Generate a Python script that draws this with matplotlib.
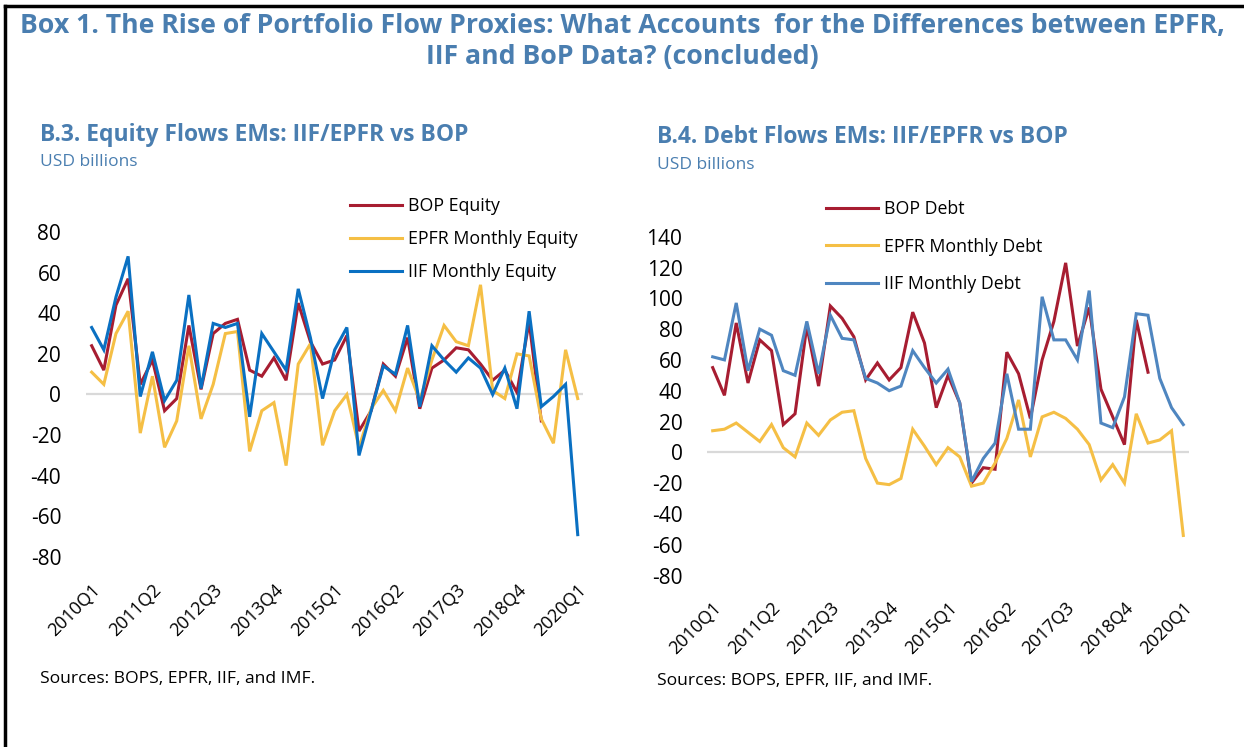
import matplotlib
matplotlib.use("Agg")
import matplotlib.pyplot as plt
from matplotlib.lines import Line2D
from matplotlib.transforms import ScaledTranslation

plt.rcParams['font.family'] = ['Open Sans', 'DejaVu Sans']

quarters = [f"{y}Q{q}" for y in range(2010, 2021) for q in range(1, 5)][:41]

# B.3 equity flows, USD billions
bop_equity = [24, 12, 44, 57, 5, 17, -8, -2, 34, 2.5, 30, 35, 37, 12, 9, 18, 7, 45, 26, 15,
              17, 29, -18, -8, 15, 9, 28, -7, 13, 17, 23, 22, 15, 7, 12, 1, 36, -13]
epfr_equity = [11, 5, 30, 41, -19, 9, -26, -13, 24, -12, 5, 30, 31, -28, -8, -4, -35, 15, 25, -25,
               -8, 0, -26, -7, 2, -8, 13, -3, 17, 34, 26, 24, 54, 2, -2, 20, 19, -12, -24, 22, -2]
iif_equity = [33, 22, 48, 68, -1, 21, -3, 7, 49, 3, 35, 33, 35, -11, 30, 21, 12, 52, 28, -2,
              22, 33, -30, -8, 14, 10, 34, -6, 24, 17, 11, 18, 13, 0, 13, -7, 41, -6, -1, 5, -69]

# B.4 debt flows, USD billions
bop_debt = [55, 37, 84, 45, 73, 66, 18, 25, 82, 43, 95, 87, 75, 47, 58, 47, 55, 91, 71, 29,
            50, 32, -20, -10, -11, 65, 51, 22, 60, 85, 123, 69, 94, 41, 23, 5, 86, 52]
iif_debt = [62, 60, 97, 53, 80, 76, 53, 50, 85, 51, 89, 74, 73, 48, 45, 40, 43, 66, 55, 45,
            54, 32, -19, -4, 6, 51, 15, 15, 101, 73, 73, 60, 105, 19, 16, 36, 90, 89, 48, 29, 18]
epfr_debt = [14, 15, 19, 13, 7, 18, 3, -3, 19, 11, 21, 26, 27, -4, -20, -21, -17, 15, 4, -8,
             3, -3, -22, -20, -7, 9, 34, -3, 23, 26, 22, 15, 5, -18, -8, -20, 25, 6, 8, 14, -54]

equity_ticks = [-80, -60, -40, -20, 0, 20, 40, 60, 80]
debt_ticks = [-80, -60, -40, -20, 0, 20, 40, 60, 80, 100, 120, 140]

RED = '#a71d31'
YELLOW = '#f5bf45'
BLUE_EQ = '#0a70c2'
BLUE_DEBT = '#4f86c0'
HEAD = '#4a7eb0'
W, H = 1244, 747


def px_axes(fig, x0, y0, x1, y1):
    """Axes from pixel box (top-left origin)."""
    return fig.add_axes([x0 / W, 1 - y1 / H, (x1 - x0) / W, (y1 - y0) / H])


def draw_panel(fig, ax, series, labels, colors, ticks):
    ax.axhline(0, color='#d9d9d9', lw=1.6, zorder=1)
    handles = []
    for vals, lab, col in zip(series, labels, colors):
        h, = ax.plot(range(len(vals)), vals, color=col, lw=2.2, label=lab, zorder=2,
                     solid_joinstyle='miter')
        handles.append(h)
    ax.set_xlim(-0.45, 40.45)
    ax.set_ylim(ticks[0], ticks[-1])
    ax.set_yticks(ticks)
    ax.set_yticklabels([str(t) for t in ticks], fontsize=15)
    pos = list(range(0, 41, 5))
    ax.set_xticks(pos)
    ax.set_xticklabels([quarters[p] for p in pos], rotation=45, ha='right',
                       rotation_mode='anchor', fontsize=13)
    shift = ScaledTranslation(-8 / 100, 0, fig.dpi_scale_trans)
    for lab in ax.get_xticklabels():
        lab.set_transform(lab.get_transform() + shift)
    ax.tick_params(axis='y', length=0, pad=18)
    ax.tick_params(axis='x', length=0, pad=17)
    for s in ax.spines.values():
        s.set_visible(False)
    ax.patch.set_alpha(0)
    return handles


fig = plt.figure(figsize=(W / 100, H / 100), dpi=100)

# box border
fig.add_artist(Line2D([5 / W, 1], [1 - 6 / H, 1 - 6 / H], color='black', lw=2.5))
fig.add_artist(Line2D([5 / W, 5 / W], [1 - 6 / H, 0], color='black', lw=2.5))

fig.text(0.5, 1 - 26 / H,
         "Box 1. The Rise of Portfolio Flow Proxies: What Accounts  for the Differences between EPFR,",
         ha='center', va='center', fontsize=19.2, fontweight='bold', color=HEAD)
fig.text(0.5, 1 - 57 / H, "IIF and BoP Data? (concluded)",
         ha='center', va='center', fontsize=19.2, fontweight='bold', color=HEAD)

# left panel
ax1 = px_axes(fig, 86.2, 232, 583.2, 557)
h1 = draw_panel(fig, ax1, [bop_equity, epfr_equity, iif_equity],
                ["BOP Equity", "EPFR Monthly Equity", "IIF Monthly Equity"],
                [RED, YELLOW, BLUE_EQ], equity_ticks)
fig.text(40 / W, 1 - 135 / H, "B.3. Equity Flows EMs: IIF/EPFR vs BOP",
         ha='left', va='center', fontsize=16.5, fontweight='bold', color=HEAD)
fig.text(40 / W, 1 - 162 / H, "USD billions", ha='left', va='center', fontsize=12.5, color=HEAD)
fig.text(40 / W, 1 - 679 / H, "Sources: BOPS, EPFR, IIF, and IMF.", ha='left', va='center',
         fontsize=12.6)
ax1.legend(handles=h1, loc='upper left', bbox_to_anchor=(350 / W, 1 - 197 / H),
           bbox_transform=fig.transFigure, frameon=False, fontsize=12.8, handlelength=2.9,
           handletextpad=0.35, labelspacing=0.84, borderpad=0, borderaxespad=0)

# right panel
ax2 = px_axes(fig, 707.4, 236.7, 1188.6, 575.5)
h2 = draw_panel(fig, ax2, [bop_debt, epfr_debt, iif_debt],
                ["BOP Debt", "EPFR Monthly Debt", "IIF Monthly Debt"],
                [RED, YELLOW, BLUE_DEBT], debt_ticks)
fig.text(657 / W, 1 - 137 / H, "B.4. Debt Flows EMs: IIF/EPFR vs BOP",
         ha='left', va='center', fontsize=16.5, fontweight='bold', color=HEAD)
fig.text(657 / W, 1 - 165 / H, "USD billions", ha='left', va='center', fontsize=12.5, color=HEAD)
fig.text(657 / W, 1 - 681 / H, "Sources: BOPS, EPFR, IIF, and IMF.", ha='left', va='center',
         fontsize=12.6)
ax2.legend(handles=h2, loc='upper left', bbox_to_anchor=(826 / W, 1 - 200 / H),
           bbox_transform=fig.transFigure, frameon=False, fontsize=12.8, handlelength=2.9,
           handletextpad=0.35, labelspacing=1.1, borderpad=0, borderaxespad=0)

fig.savefig("out.png", dpi=100)
